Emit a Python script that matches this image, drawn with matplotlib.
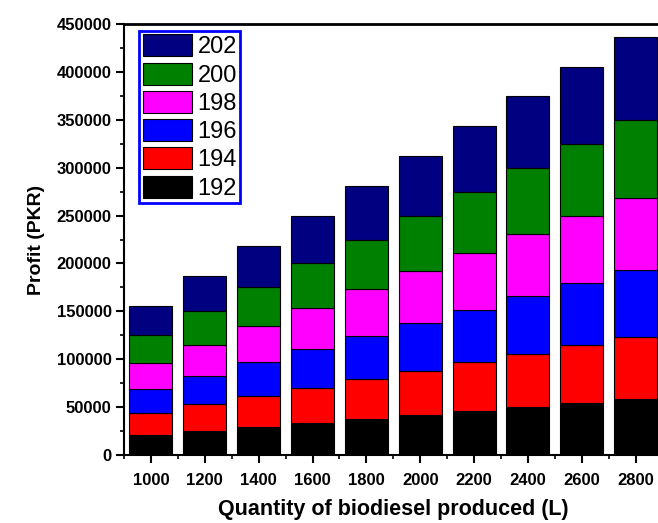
import matplotlib
matplotlib.use("Agg")
import matplotlib.pyplot as plt
from matplotlib.ticker import MultipleLocator

plt.rcParams['font.family'] = ['Liberation Sans', 'DejaVu Sans']

# Quantity of biodiesel produced (L)
quantities = [1000, 1200, 1400, 1600, 1800, 2000, 2200, 2400, 2600, 2800]

# Profit (PKR) at each selling price (PKR/L), stacked bottom to top
prices = ["192", "194", "196", "198", "200", "202"]
profit_192 = [21000, 25200, 29400, 33600, 37800, 42000, 46200, 50400, 54600, 58800]
profit_194 = [23000, 27600, 32200, 36800, 41400, 46000, 50600, 55200, 59800, 64400]
profit_196 = [25000, 30000, 35000, 40000, 45000, 50000, 55000, 60000, 65000, 70000]
profit_198 = [27000, 32400, 37800, 43200, 48600, 54000, 59400, 64800, 70200, 75600]
profit_200 = [29000, 34800, 40600, 46400, 52200, 58000, 63800, 69600, 75400, 81200]
profit_202 = [31000, 37200, 43400, 49600, 55800, 62000, 68200, 74400, 80600, 86800]
series = [profit_192, profit_194, profit_196, profit_198, profit_200, profit_202]
colors = ["#000000", "#FF0000", "#0000FF", "#FF00FF", "#008000", "#000080"]

y_ticks = [0, 50000, 100000, 150000, 200000, 250000, 300000, 350000, 400000, 450000]

fig = plt.figure(figsize=(6.58, 5.23), dpi=100)
ax = fig.add_axes([124 / 658, 1 - 455 / 523, (662.6 - 124) / 658, (455 - 24) / 523])

bottom = [0] * len(quantities)
handles = []
for vals, col, lab in zip(series, colors, prices):
    bars = ax.bar(quantities, vals, width=160, bottom=bottom, color=col,
                  edgecolor="black", linewidth=0.8, label=lab, zorder=2)
    handles.append(bars)
    bottom = [b + v for b, v in zip(bottom, vals)]

ax.set_xlim(900, 2900)
ax.set_ylim(0, 450000)
ax.set_xticks(quantities)
ax.set_xticklabels([str(q) for q in quantities])
ax.xaxis.set_minor_locator(MultipleLocator(100))
ax.set_yticks(y_ticks)
ax.set_yticklabels([str(v) for v in y_ticks])
ax.yaxis.set_minor_locator(MultipleLocator(25000))

ax.tick_params(axis='both', which='major', direction='out', length=6, width=1.5)
ax.tick_params(axis='both', which='minor', direction='out', length=3, width=1.2)
ax.tick_params(axis='x', labelsize=12, pad=7)
ax.tick_params(axis='y', labelsize=12, pad=3)
for lbl in ax.get_xticklabels() + ax.get_yticklabels():
    lbl.set_fontweight('bold')

for side in ["left", "bottom"]:
    ax.spines[side].set_linewidth(1.5)
ax.spines["top"].set_linewidth(2)
ax.spines["right"].set_linewidth(2)

ax.set_xlabel("Quantity of biodiesel produced (L)", fontsize=15.5, fontweight='bold', labelpad=8)
ax.set_ylabel("Profit (PKR)", fontsize=14, fontweight='bold', labelpad=8)

leg = ax.legend(handles[::-1], prices[::-1], loc='upper left',
                bbox_to_anchor=(0.028, 0.984), borderaxespad=0,
                fontsize=17, handlelength=2.1, handleheight=1.05,
                handletextpad=0.22, labelspacing=0.18, borderpad=0.15,
                fancybox=False, framealpha=1, edgecolor='#0000FF')
leg.get_frame().set_linewidth(2)

fig.savefig("out.png", dpi=100)
